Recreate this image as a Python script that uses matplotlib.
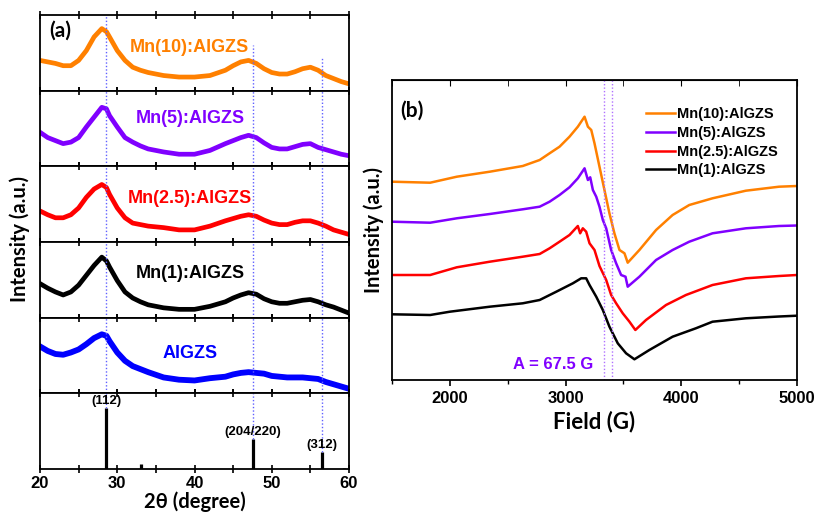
import matplotlib
matplotlib.use("Agg")
import matplotlib.pyplot as plt

plt.rcParams['font.family'] = ['Liberation Sans', 'DejaVu Sans']
plt.rcParams['font.weight'] = 'bold'

# ---------------- Panel (a): XRD data ----------------
two_theta = [20, 21, 22, 23, 24, 25, 26, 27, 28, 28.6, 29, 30, 31, 32, 33, 34, 36, 38, 40,
             42, 44, 45, 46, 47, 48, 49, 50, 51, 52, 53, 54, 55, 56, 57, 58, 59, 60]
xrd_mn10 = [0.40, 0.38, 0.36, 0.33, 0.33, 0.40, 0.53, 0.71, 0.82, 0.78, 0.71, 0.53, 0.40,
            0.31, 0.27, 0.24, 0.20, 0.18, 0.18, 0.20, 0.27, 0.33, 0.38, 0.40, 0.36, 0.29,
            0.24, 0.22, 0.22, 0.25, 0.29, 0.31, 0.27, 0.20, 0.16, 0.12, 0.09]
xrd_mn5 = [0.45, 0.38, 0.34, 0.30, 0.32, 0.38, 0.52, 0.65, 0.78, 0.76, 0.67, 0.52, 0.38,
           0.32, 0.27, 0.23, 0.19, 0.16, 0.16, 0.21, 0.30, 0.34, 0.38, 0.41, 0.38, 0.31,
           0.25, 0.23, 0.23, 0.26, 0.29, 0.30, 0.25, 0.22, 0.19, 0.16, 0.14]
xrd_mn25 = [0.41, 0.36, 0.32, 0.32, 0.36, 0.45, 0.59, 0.70, 0.76, 0.72, 0.63, 0.45, 0.32,
            0.25, 0.23, 0.21, 0.19, 0.16, 0.16, 0.21, 0.28, 0.31, 0.34, 0.36, 0.34, 0.29,
            0.25, 0.23, 0.23, 0.26, 0.28, 0.28, 0.25, 0.21, 0.16, 0.13, 0.10]
xrd_mn1 = [0.45, 0.39, 0.34, 0.30, 0.34, 0.43, 0.56, 0.69, 0.80, 0.75, 0.67, 0.49, 0.34,
           0.26, 0.21, 0.17, 0.13, 0.11, 0.11, 0.15, 0.21, 0.26, 0.30, 0.33, 0.31, 0.25,
           0.21, 0.19, 0.19, 0.21, 0.23, 0.24, 0.21, 0.17, 0.14, 0.10, 0.06]
xrd_algzs = [0.62, 0.56, 0.52, 0.51, 0.54, 0.58, 0.65, 0.73, 0.78, 0.76, 0.69, 0.54, 0.43,
             0.36, 0.32, 0.28, 0.21, 0.18, 0.17, 0.20, 0.22, 0.25, 0.27, 0.28, 0.27, 0.26,
             0.23, 0.22, 0.21, 0.21, 0.21, 0.20, 0.19, 0.15, 0.12, 0.09, 0.06]

xrd_series = [xrd_mn10, xrd_mn5, xrd_mn25, xrd_mn1, xrd_algzs]
xrd_labels = ['Mn(10):AlGZS', 'Mn(5):AlGZS', 'Mn(2.5):AlGZS', 'Mn(1):AlGZS', 'AlGZS']
xrd_colors = ['#FF8000', '#8000FF', '#FF0000', '#000000', '#0000FF']
xrd_label_y = [0.57, 0.63, 0.57, 0.58, 0.53]

# Reference pattern (sticks)
ref_pos = [28.6, 33.1, 47.6, 56.5, 59.3]
ref_int = [1.0, 0.08, 0.50, 0.28, 0.01]
ref_hkl = {28.6: '(112)', 47.6: '(204/220)', 56.5: '(312)'}
guide_lines = [28.6, 47.6, 56.5]
guide_top = [1.0, 0.60, 0.44]   # fraction of top panel where guides start

# ---------------- Panel (b): EPR data ----------------
field_mn10 = [1500, 1830, 2060, 2345, 2630, 2776, 2862, 2948, 3034, 3106, 3164, 3193, 3222,
              3250, 3293, 3336, 3379, 3422, 3466, 3509, 3537, 3638, 3782, 3925, 4069, 4270,
              4558, 4845, 5000]
epr_mn10 = [198.3, 197.3, 203.3, 208.3, 214, 220, 226.7, 233.3, 243.3, 253.3, 263.3, 253.3,
            250, 236.7, 213.3, 190, 166.7, 146.7, 130, 126.7, 117.3, 130, 150, 165, 175,
            181.7, 189.3, 193.3, 194]
field_mn5 = [1500, 1830, 2060, 2345, 2630, 2776, 2862, 2948, 3034, 3106, 3164, 3193, 3213,
             3236, 3265, 3293, 3322, 3351, 3394, 3437, 3480, 3518, 3537, 3638, 3782, 3925,
             4069, 4270, 4558, 4845, 5000]
epr_mn5 = [158.3, 157.3, 161.7, 166, 170.7, 173.3, 178.3, 185, 192.7, 201.7, 211.7, 200,
           202.7, 190, 183.3, 173.3, 160, 151.7, 130, 116.7, 105, 103.3, 93.3, 103.3, 120,
           130, 138.3, 146.7, 151.7, 154, 154.5]
field_mn25 = [1500, 1830, 2060, 2345, 2630, 2776, 2862, 2948, 3034, 3106, 3126, 3149, 3178,
              3207, 3250, 3293, 3351, 3394, 3437, 3494, 3552, 3603, 3695, 3868, 4040, 4270,
              4558, 4845, 5000]
epr_mn25 = [105, 105, 112.7, 118.3, 123.3, 126, 131.7, 138.3, 145, 154, 146.7, 151.7, 148.3,
            136.7, 130, 114, 100, 85, 76.7, 66.7, 58.3, 50, 60, 75, 85, 95, 101.7, 104, 105]
field_mn1 = [1500, 1830, 2000, 2345, 2630, 2776, 2920, 3063, 3135, 3178, 3207, 3265, 3322,
             3379, 3451, 3523, 3595, 3724, 3925, 4126, 4270, 4558, 4845, 5000]
epr_mn1 = [65.7, 65, 68.3, 73.3, 76.7, 80, 88.3, 96.7, 101.7, 101.7, 95, 83.3, 70, 53.3,
           36.7, 26.7, 20.7, 30, 43.3, 51.7, 58.3, 61.7, 63.5, 64.3]
epr_fields = [field_mn10, field_mn5, field_mn25, field_mn1]
epr_series = [epr_mn10, epr_mn5, epr_mn25, epr_mn1]
epr_labels = ['Mn(10):AlGZS', 'Mn(5):AlGZS', 'Mn(2.5):AlGZS', 'Mn(1):AlGZS']
epr_colors = ['#FF8000', '#8000FF', '#FF0000', '#000000']
hyperfine_lines = [3330, 3398]

fig = plt.figure(figsize=(8.15, 5.16), dpi=100)
LABEL_FONT = ['Lato', 'DejaVu Sans']

# ---- panel (a) ----
left, width = 40 / 815, 309 / 815
top, bottom = 1 - 15 / 516, 1 - 469 / 516
n = 6
h = (top - bottom) / n
axes_a = []
for i in range(n):
    ax = fig.add_axes([left, top - (i + 1) * h, width, h])
    ax.set_xlim(20, 60)
    ax.set_ylim(0, 1)
    ax.set_yticks([])
    ax.set_xticks([20, 30, 40, 50, 60])
    ax.set_xticks([25, 35, 45, 55], minor=True)
    ax.tick_params(axis='x', which='both', direction='inout', length=6, width=1.2,
                   top=True, bottom=True)
    for s in ax.spines.values():
        s.set_linewidth(1.3)
    if i < n - 1:
        ax.set_xticklabels([])
    axes_a.append(ax)

for i, (ys, lab, col, ly) in enumerate(zip(xrd_series, xrd_labels, xrd_colors, xrd_label_y)):
    ax = axes_a[i]
    lw = 4.2 if col == '#0000FF' else 3.4
    ax.plot(two_theta, ys, color=col, lw=lw, solid_joinstyle='round')
    ax.text(39.4, ly, lab, color=col, fontsize=13, fontweight='bold',
            ha='center', va='center')
    for g, gt in zip(guide_lines, guide_top):
        ytop = gt if i == 0 else 1
        ax.plot([g, g], [0, ytop], color='#6060FF', lw=1.0, ls=(0, (1, 1.5)))

axr = axes_a[-1]
axr.set_ylim(0, 1.25)
axr.vlines(ref_pos, 0, ref_int, color='black', lw=2.3)
for p, it in zip(ref_pos, ref_int):
    if p in ref_hkl:
        axr.plot([p, p], [it, 1.25], color='#6060FF', lw=1.0, ls=(0, (1, 1.5)))
        axr.text(p, it + 0.02, ref_hkl[p], fontsize=9.5, fontweight='bold',
                 ha='center', va='bottom', color='black')
axr.tick_params(axis='x', labelsize=12, pad=2)
axr.set_xlabel('2θ (degree)', fontsize=14.5, fontweight='bold', labelpad=0,
               family=LABEL_FONT)
axes_a[0].text(0.03, 0.93, '(a)', transform=axes_a[0].transAxes, fontsize=15,
               fontweight='bold', ha='left', va='top', family=LABEL_FONT)
fig.text(20 / 815, 1 - 239 / 516, 'Intensity (a.u.)', rotation=90, fontsize=14.5,
         fontweight='bold', ha='center', va='center', family=LABEL_FONT)

# ---- panel (b) ----
axb = fig.add_axes([392 / 815, 1 - 380 / 516, 405 / 815, 300 / 516])
for f, ys, lab, col in zip(epr_fields, epr_series, epr_labels, epr_colors):
    axb.plot(f, ys, color=col, lw=1.8, label=lab)
for hl in hyperfine_lines:
    axb.axvline(hl, color='#B070FF', lw=1.0, ls=(0, (1, 1.5)))
axb.set_xlim(1500, 5000)
axb.set_ylim(0, 300)
axb.set_yticks([])
axb.set_xticks([2000, 3000, 4000, 5000])
axb.set_xticks([1500, 2500, 3500, 4500], minor=True)
axb.tick_params(axis='x', which='major', direction='out', length=4, width=1.2,
                labelsize=12, pad=4)
axb.tick_params(axis='x', which='minor', direction='out', length=3, width=1.0)
for s in axb.spines.values():
    s.set_linewidth(1.3)
axb_top = axb.secondary_xaxis('top')
axb_top.set_xticks([2000, 3000, 4000, 5000])
axb_top.set_xticks([1500, 2500, 3500, 4500], minor=True)
axb_top.tick_params(axis='x', which='both', direction='in', length=4, labeltop=False)
axb_top.set_xticklabels([])
axb.set_xlabel('Field (G)', fontsize=16, fontweight='bold', labelpad=3,
               family=LABEL_FONT)
axb.text(0.02, 0.93, '(b)', transform=axb.transAxes, fontsize=15, fontweight='bold',
         ha='left', va='top', family=LABEL_FONT)
axb.text(3240, 8, 'A = 67.5 G', color='#8000FF', fontsize=12, fontweight='bold',
         ha='right', va='bottom')
leg = axb.legend(loc='upper left', bbox_to_anchor=(0.627, 0.91), frameon=False,
                 fontsize=10.5, handlelength=2.0, handletextpad=0.15,
                 labelspacing=0.33, borderaxespad=0.0, borderpad=0.0)
axb.set_ylabel('Intensity (a.u.)', fontsize=14.5, fontweight='bold', labelpad=6,
               family=LABEL_FONT)

fig.savefig('out.png', dpi=100)
